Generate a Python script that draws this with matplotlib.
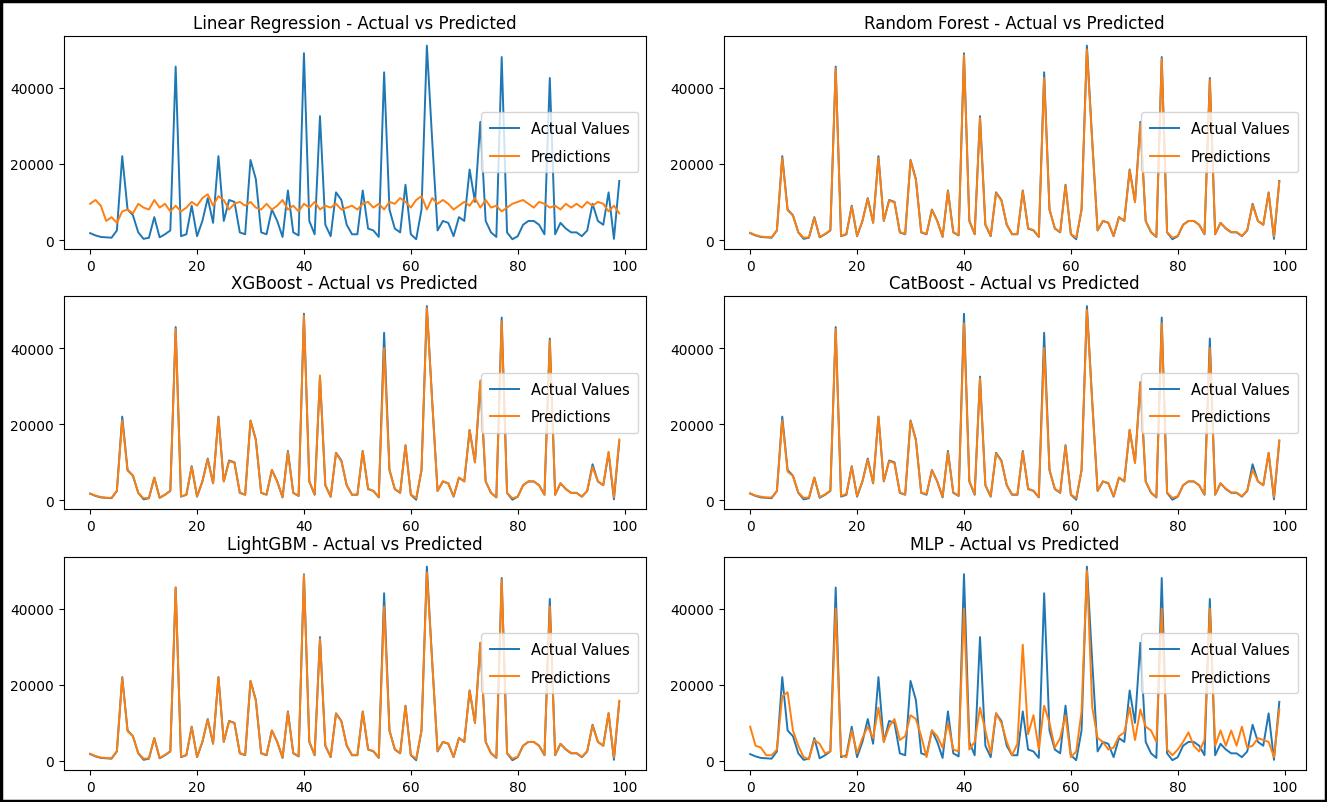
import numpy as np
import matplotlib.pyplot as plt
from matplotlib.patches import Rectangle

# test-set sample index 0..99
idx = np.arange(100)

actual = [1800, 1200, 800, 700, 600, 2500, 22000, 8000, 6500, 2000,
          300, 600, 6000, 700, 1500, 2500, 45500, 1000, 1500, 9000,
          1000, 5000, 11000, 4500, 22000, 5000, 10500, 10000, 2000, 1500,
          21000, 16000, 2000, 1500, 8000, 5000, 800, 13000, 2000, 1200,
          49000, 5000, 1500, 32500, 4000, 1000, 12500, 10500, 4000, 1500,
          1500, 13000, 3000, 2500, 800, 44000, 8000, 3000, 2000, 14500,
          1500, 200, 8000, 51000, 26000, 2500, 5000, 4500, 1000, 6000,
          5000, 18500, 10000, 31000, 5000, 2000, 800, 48000, 2000, 200,
          1000, 4000, 5000, 5000, 4000, 1500, 42500, 1500, 4500, 3000,
          2000, 2000, 1000, 2500, 9500, 5000, 4000, 12500, 300, 15500]

pred_lr = [9500, 10500, 9000, 5000, 6000, 4500, 7500, 8000, 7000, 9500,
           8500, 8000, 10500, 8500, 9500, 7500, 9000, 7500, 8500, 10000,
           9000, 11000, 12000, 9000, 11500, 10500, 8000, 9500, 10000, 9000,
           10000, 8500, 8000, 9500, 8000, 9000, 10500, 8000, 9000, 7500,
           9500, 8500, 10000, 8000, 9000, 8500, 9500, 8000, 8500, 9000,
           8000, 9500, 10000, 8500, 9500, 8000, 10000, 9500, 11000, 10000,
           8500, 10500, 11500, 8000, 11000, 9500, 10500, 9500, 8000, 9000,
           10000, 9000, 11000, 8500, 10500, 8500, 9000, 7500, 8500, 9500,
           10000, 10500, 9500, 8500, 10000, 9500, 8500, 9000, 8000, 9500,
           8500, 9500, 8500, 10000, 9000, 10000, 9500, 7500, 9000, 7000]

pred_rf = [1900, 1300, 900, 800, 700, 2600, 21500, 7800, 6400, 2100,
           600, 700, 5800, 800, 1600, 2600, 45000, 1100, 1600, 8800,
           1100, 5000, 10800, 4600, 21500, 5100, 10300, 9900, 2100, 1600,
           20800, 15800, 2100, 1600, 7900, 5000, 900, 12800, 2100, 1300,
           48500, 5100, 1600, 32000, 4100, 1100, 12300, 10400, 4100, 1600,
           1600, 12800, 3100, 2600, 900, 42500, 8000, 3100, 2100, 14300,
           1600, 600, 7900, 50000, 25500, 2600, 5000, 4600, 1100, 6000,
           5000, 18300, 9900, 30500, 5000, 2100, 900, 47500, 2100, 600,
           1100, 4000, 5000, 5000, 4000, 1600, 42000, 1600, 4500, 3100,
           2100, 2100, 1100, 2600, 9200, 5000, 4000, 12300, 900, 15300]

pred_xgb = [1800, 1300, 900, 700, 700, 2600, 21000, 7800, 6600, 2000,
            600, 700, 6000, 800, 1500, 2600, 45000, 1100, 1500, 8800,
            1100, 5000, 10800, 4500, 21800, 5000, 10300, 9900, 2100, 1500,
            20900, 15800, 2000, 1600, 8000, 5000, 900, 12700, 2000, 1200,
            48500, 5000, 1600, 32800, 4000, 1000, 12400, 10300, 4000, 1500,
            1600, 12900, 3100, 2500, 900, 40000, 8000, 3000, 2100, 14400,
            1600, 600, 8000, 50500, 25800, 2500, 5000, 4500, 1100, 6000,
            5000, 18500, 10000, 31500, 5000, 2000, 900, 47000, 2000, 600,
            1000, 4000, 5000, 5000, 4000, 1500, 42000, 1500, 4500, 3000,
            2000, 2000, 1000, 2500, 8800, 5000, 4000, 12800, 800, 16000]

pred_cat = [1900, 1300, 1000, 800, 800, 2500, 21000, 7600, 6400, 2100,
            700, 800, 6000, 900, 1600, 2600, 45000, 1200, 1700, 8800,
            1200, 5000, 10700, 4600, 22000, 5100, 10300, 9800, 2100, 1600,
            20800, 15700, 2100, 1700, 7900, 5000, 1000, 12600, 2100, 1300,
            46500, 5100, 1700, 32000, 4100, 1100, 12300, 10300, 4100, 1600,
            1600, 12700, 3100, 2600, 900, 40000, 7900, 3100, 2100, 14300,
            1600, 600, 7900, 50000, 25500, 2600, 5000, 4600, 1100, 6000,
            5000, 18600, 9800, 31000, 5000, 2100, 900, 46500, 2100, 700,
            1100, 4000, 5000, 5000, 4000, 1600, 40000, 1600, 4500, 3100,
            2100, 2100, 1100, 2600, 8000, 5000, 4000, 12500, 900, 15800]

pred_lgbm = [1900, 1300, 900, 800, 700, 2600, 21800, 7800, 6500, 2100,
             600, 700, 6000, 800, 1600, 2600, 45500, 1100, 1600, 8900,
             1100, 5000, 10900, 4600, 22000, 5100, 10400, 9900, 2100, 1600,
             21000, 15800, 2100, 1600, 8000, 5000, 900, 12800, 2100, 1300,
             48800, 5100, 1600, 32000, 4100, 1100, 12400, 10400, 4100, 1600,
             1600, 12900, 3100, 2600, 900, 40500, 8000, 3100, 2100, 14400,
             1600, 600, 8000, 49500, 25800, 2600, 5000, 4600, 1100, 6000,
             5000, 18500, 10000, 31000, 5000, 2100, 900, 47500, 2100, 600,
             1100, 4000, 5000, 5000, 4000, 1600, 40500, 1600, 4500, 3100,
             2100, 2100, 1100, 2600, 9300, 5000, 4000, 12600, 900, 15800]

pred_mlp = [9000, 4000, 3500, 1500, 1500, 3000, 17000, 18000, 8000, 4000,
            1000, 500, 5500, 4500, 2000, 2500, 40000, 1500, 1000, 8000,
            2000, 6000, 9000, 6000, 14000, 5000, 9000, 11000, 5500, 6500,
            12000, 11000, 6500, 1000, 8000, 6500, 3500, 10000, 3000, 2500,
            40000, 3000, 5000, 14000, 8000, 2000, 12500, 10000, 5000, 1500,
            4500, 30500, 7000, 12000, 3000, 14500, 10000, 3500, 6000, 12000,
            1000, 2500, 13000, 50000, 14000, 6000, 5000, 3000, 3500, 6500,
            7500, 14000, 5500, 13500, 9000, 8000, 5000, 40000, 3000, 1500,
            3000, 5000, 7500, 4000, 2500, 5500, 40000, 4000, 8000, 4000,
            8000, 4000, 9000, 3500, 4000, 6000, 5500, 5000, 1000, 13500]

models = ["Linear Regression", "Random Forest", "XGBoost",
          "CatBoost", "LightGBM", "MLP"]
predictions = [pred_lr, pred_rf, pred_xgb, pred_cat, pred_lgbm, pred_mlp]

fig, axes = plt.subplots(3, 2, figsize=(13.27, 8.03), dpi=100)
plt.subplots_adjust(left=0.048, right=0.984, top=0.954, bottom=0.040,
                    wspace=0.134, hspace=0.223)

for ax, name, pred in zip(axes.flat, models, predictions):
    ax.plot(idx, actual, label="Actual Values", linewidth=1.4)
    ax.plot(idx, pred, label="Predictions", linewidth=1.4)
    ax.set_title(f"{name} - Actual vs Predicted", fontsize=12)
    ax.set_xticks([0, 20, 40, 60, 80, 100])
    ax.set_yticks([0, 20000, 40000])
    ax.tick_params(labelsize=10)
    ax.legend(loc="center right", fontsize=10.5, labelspacing=0.85,
              borderpad=0.6, handlelength=2.0)

# black frame round the whole picture
fig.patches.append(Rectangle((0.001, 0.001), 0.998, 0.997, transform=fig.transFigure,
                             fill=False, edgecolor="black", linewidth=2.5))

plt.savefig("out.png", dpi=100)
